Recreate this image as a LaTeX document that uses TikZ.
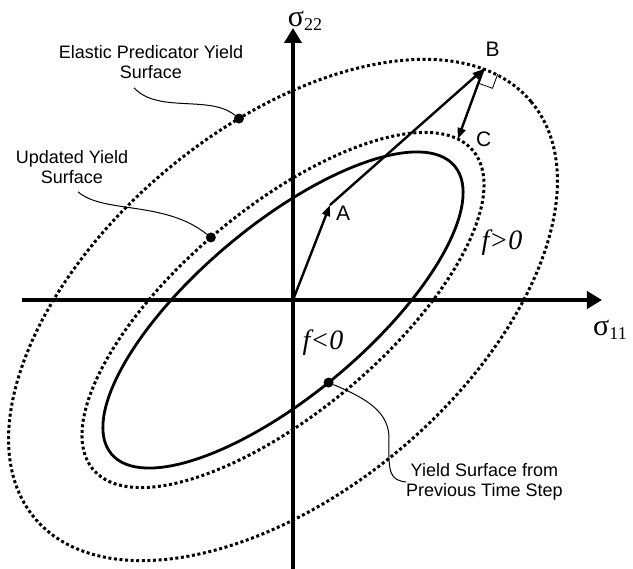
\documentclass[tikz,border=0pt]{standalone}
\usepackage{fontspec}
\setmainfont{Liberation Serif}
\newfontfamily\arialfont{Liberation Sans}
\usetikzlibrary{arrows.meta,positioning}
\newcommand{\sigmalbl}[1]{{\fontsize{30}{30}\selectfont σ}\raisebox{-4pt}{\fontsize{18}{18}\selectfont #1}}
\tikzstyle{axis}=[line width=4pt,-{Triangle[length=15pt,width=17pt]}]
\tikzstyle{solidsurf}=[line width=2.8pt]
\tikzstyle{dotsurf}=[line width=3pt,dash pattern=on 3pt off 2.6pt]
\tikzstyle{vec}=[line width=2.4pt,-{Triangle[length=11pt,width=8pt]}]
\tikzstyle{leader}=[line width=1pt]
\tikzstyle{spot}=[circle,fill=black,inner sep=0pt,minimum size=10pt]
\tikzstyle{lbl}=[font=\arialfont\fontsize{18}{20}\selectfont,align=center,inner sep=0pt]
\tikzstyle{ptlabel}=[font=\arialfont\fontsize{21}{21}\selectfont,inner sep=0pt]
\tikzstyle{region}=[font=\itshape\fontsize{28}{28}\selectfont,inner sep=0pt]
\tikzstyle{axlabel}=[inner sep=0pt]

\begin{document}
\begin{tikzpicture}[x=1pt,y=1pt]
  \useasboundingbox (-293,-269) rectangle (340,300);

  % Axes
  \coordinate (O) at (0,0);
  \coordinate (xlo) at (-271,0);
  \coordinate (xhi) at (309,0);
  \coordinate (ylo) at (0,-275);
  \coordinate (yhi) at (0,272);
  \draw[axis] (xlo) -- (xhi);
  \draw[axis] (ylo) -- (yhi);
  \node[axlabel] (s11) at (317,-30) {\sigmalbl{11}};
  \node[axlabel] (s22) at (12,279) {\sigmalbl{22}};

  % Yield surfaces
  \begin{scope}[shift={(-10,-10)},rotate=40]
    \draw[solidsurf] (0,0) ellipse [x radius=224,y radius=85];
    \draw[dotsurf] (0,0) ellipse [x radius=248,y radius=102];
    \draw[dotsurf] (0,0) ellipse [x radius=324,y radius=182];
    \coordinate (B) at (17.8:324 and 182);
    \coordinate (C) at (10.5:248 and 102);
    \node[spot] (edot) at (74:324 and 182) {};
    \node[spot] (udot) at (92:248 and 102) {};
    \node[spot] (pdot) at (267:224 and 85) {};
  \end{scope}

  % Stress path
  \coordinate (A) at (37,95);
  \draw[vec] (O) -- (A);
  \draw[vec] (A) -- (B);
  \draw[vec] (B) -- (C);
  \begin{scope}[shift={(B)},rotate=-20]
    \draw[line width=0.8pt] (0,-15) -- (15,-15) -- (15,0);
  \end{scope}
  \node[ptlabel, right=6pt of A, yshift=-8pt] (Alab) {A};
  \node[ptlabel, above=12pt of B, xshift=9pt] (Blab) {B};
  \node[ptlabel, right=18pt of C] (Clab) {C};

  \node[region] (fpos) at (209,57) {f>0};
  \node[region] (fneg) at (30,-43) {f<0};

  % Labels
  \node[lbl] (elastic) at (-142,238) {Elastic Predicator Yield\\Surface};
  \node[lbl] (updated) at (-221,133) {Updated Yield\\Surface};
  \node[lbl, anchor=west] (prevstep) at (113,-182) {Yield Surface from\\Previous Time Step};
  \coordinate (bend) at (96,-140);

  \draw[leader] ([xshift=-17pt,yshift=-9pt]elastic.south) .. controls +(24,-26) and +(-29,24) .. (edot);
  \draw[leader] ([xshift=6pt,yshift=-8pt]updated.south) .. controls +(25,-22) and +(-46,37) .. (udot);
  \draw[leader] (pdot) .. controls +(38,-16) and +(1,28) .. (bend)
    .. controls +(-1,-35) and +(-15,2) .. (prevstep.west);

\end{tikzpicture}
\end{document}
